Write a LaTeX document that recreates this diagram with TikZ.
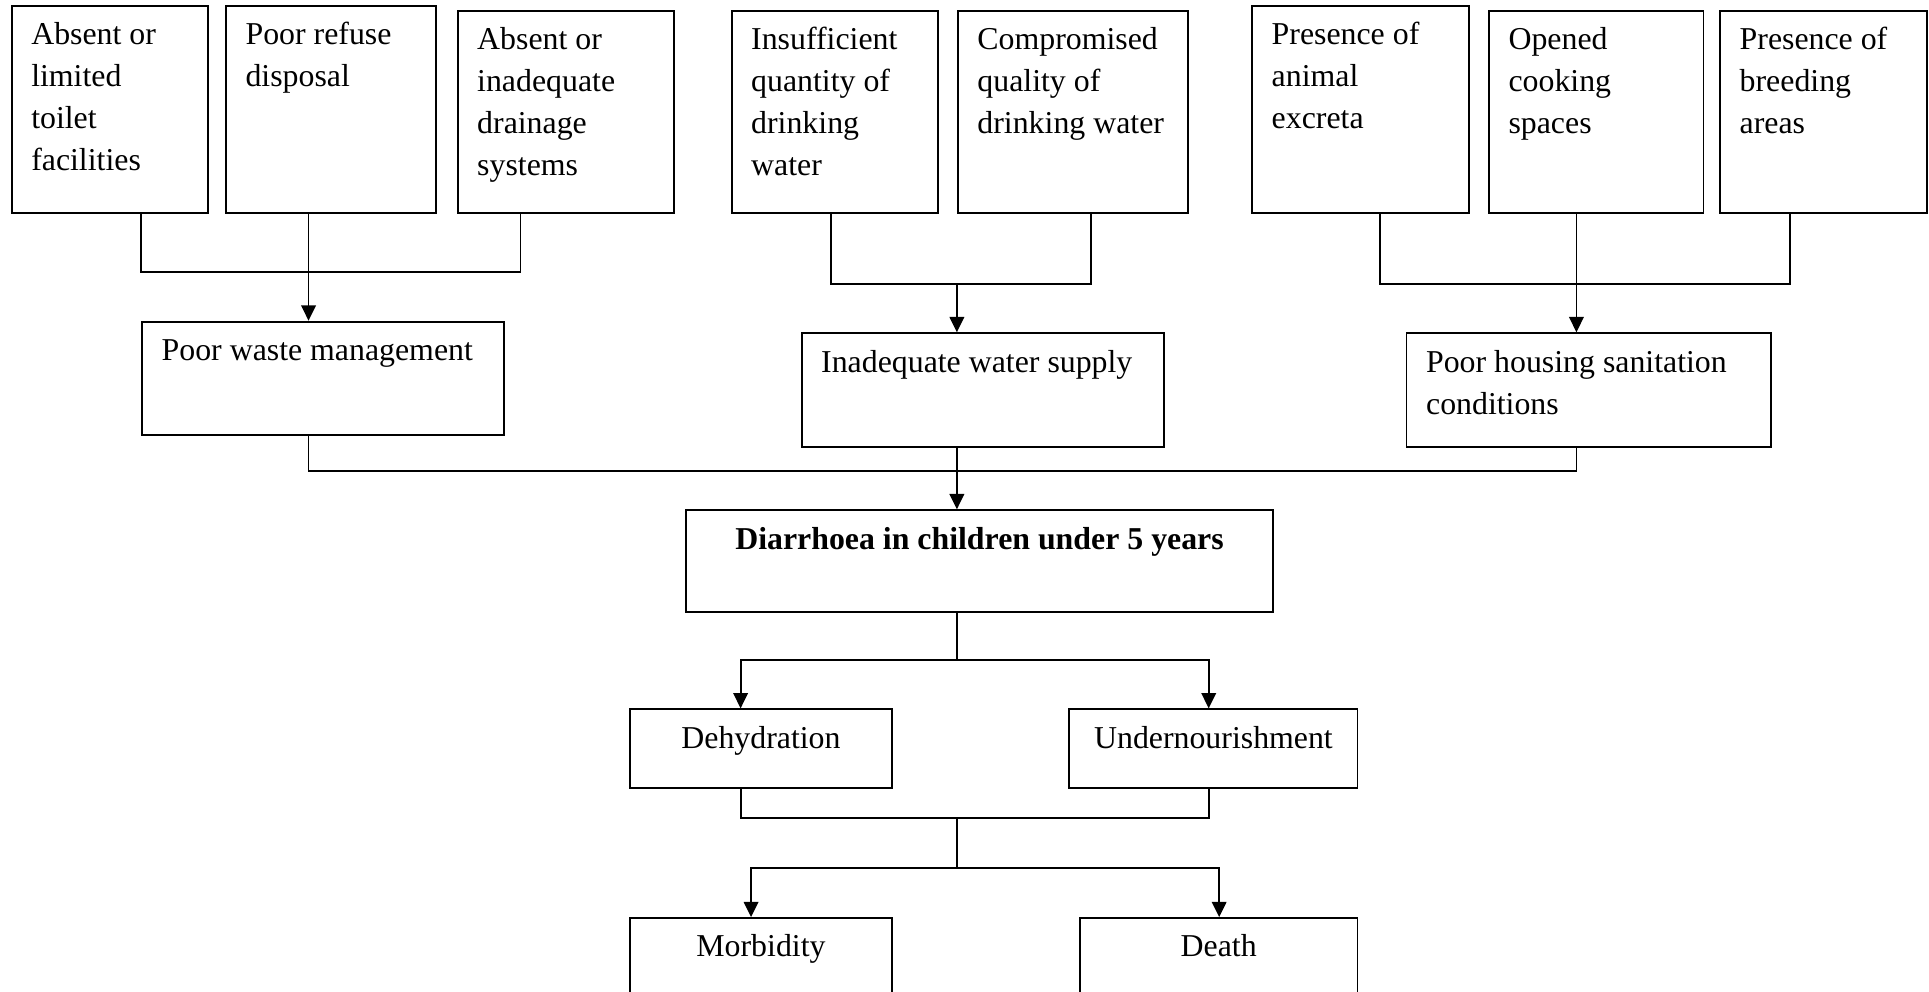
\documentclass[tikz,border=0pt]{standalone}
\usepackage{fontspec}
\setmainfont{Liberation Serif}
\usetikzlibrary{positioning,arrows.meta,calc}

\newdimen\un \un=0.4637pt
% text of a box, top-aligned; width and height in picture units
\newcommand{\boxtext}[3]{\parbox[t][\dimexpr#2\un-7.2pt\relax][t]{\dimexpr#1\un-14.8pt\relax}{\raggedright\strut#3}}

\begin{document}
\begin{tikzpicture}[x=\un, y=-\un, line width=0.7pt,
  >={Triangle[length=5.8pt,width=5.5pt]},
  cell/.style={draw, anchor=north west, inner xsep=7.4pt, inner ysep=3.6pt,
    font=\fontsize{12}{15.8}\selectfont}]
  \clip (0,0) rectangle (1568,806);
  % causes
  \node[cell] (toilet) at (8.7,4.1) {\boxtext{159.7}{168}{Absent or\\limited\\toilet\\facilities}};
  \node[cell] (refuse) at (182.9,4.1) {\boxtext{170.9}{168}{Poor refuse\\disposal}};
  \node[cell] (drain) at (371.2,8.1) {\boxtext{176}{164}{Absent or\\inadequate\\drainage\\systems}};
  \node[cell] (quantity) at (593.9,8.1) {\boxtext{168}{164}{Insufficient\\quantity of\\drinking\\water}};
  \node[cell] (quality) at (777.8,8.1) {\boxtext{187.2}{164}{Compromised\\quality of\\drinking water}};
  \node[cell] (excreta) at (1017,4.1) {\boxtext{176}{168}{Presence of\\animal\\excreta}};
  \node[cell] (cooking) at (1209.5,8.1) {\boxtext{174.4}{164}{Opened\\cooking\\spaces}};
  \node[cell] (breeding) at (1397.4,8.1) {\boxtext{168.5}{164}{Presence of\\breeding\\areas}};
  \node[cell] (waste) at (114.7,260.7) {\boxtext{294.3}{92.1}{Poor waste management}};
  \node[cell] (water) at (650.8,270.1) {\boxtext{294.9}{92.4}{Inadequate water supply}};
  \node[cell] (housing) at (1142.5,270.1) {\boxtext{296.1}{92.2}{Poor housing sanitation\\conditions}};
  % outcome and effects
  \node[cell] (diarrhoea) at (556.6,414) {\boxtext{477.7}{82.6}{\centering\textbf{Diarrhoea in children under 5 years}}};
  \node[cell] (dehyd) at (511.5,575.8) {\boxtext{212.6}{63.8}{\centering Dehydration}};
  \node[cell] (under) at (868.5,575.8) {\boxtext{234.2}{63.8}{\centering Undernourishment}};
  \node[cell] (morb) at (511.5,745.5) {\boxtext{212.6}{80}{\centering Morbidity}};
  \node[cell] (death) at (877,745.5) {\boxtext{225.7}{80}{\centering Death}};

  \coordinate (wj) at (250.8,221.4);
  \coordinate (qj) at (777.8,230.9);
  \coordinate (hj) at (1281.4,230.9);
  \coordinate (dj) at (777.8,383);
  \coordinate (ej) at (777.8,536.7);
  \coordinate (fj) at (777.8,665);
  \coordinate (gj) at (777.8,705.5);

  \draw ($(toilet.south west)+(106,0)$) |- (wj) -| ($(drain.south west)+(51.9,0)$);
  \draw[->] (wj |- refuse.south) -- (wj |- waste.north);
  \draw ($(quantity.south west)+(81.8,0)$) |- (qj) -| ($(quality.south west)+(108.8,0)$);
  \draw[->] (qj) -- (qj |- water.north);
  \draw ($(excreta.south west)+(104.4,0)$) |- (hj) -| ($(breeding.south west)+(57.4,0)$);
  \draw[->] (hj |- cooking.south) -- (hj |- housing.north);
  \draw (wj |- waste.south) |- (dj) -| (hj |- housing.south);
  \draw[->] (dj |- water.south) -- (dj |- diarrhoea.north);
  \draw (ej |- diarrhoea.south) -- (ej);
  \draw[->] (ej) -| ($(dehyd.north west)+(90.5,0)$);
  \draw[->] (ej) -| ($(under.north west)+(114,0)$);
  \draw ($(dehyd.south west)+(90.5,0)$) |- (fj) -| ($(under.south west)+(114,0)$);
  \draw (fj) -- (gj);
  \draw[->] (gj) -| ($(morb.north west)+(99,0)$);
  \draw[->] (gj) -| ($(death.north west)+(114,0)$);
\end{tikzpicture}
\end{document}
